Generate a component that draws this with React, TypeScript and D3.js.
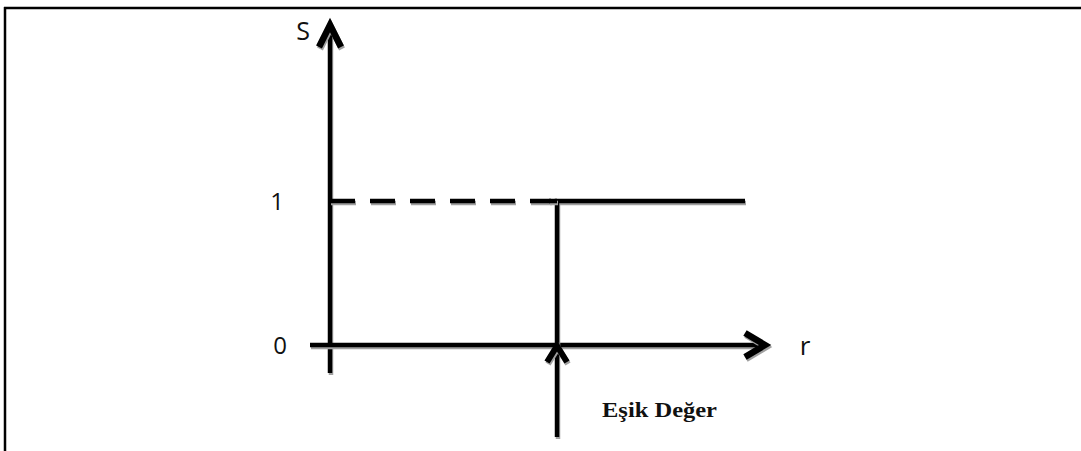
import React from "react";
import * as d3 from "d3";

const W = 1081;
const H = 451;

// data
const sLevels = [0, 1];
const sTickLabels = ["0", "1"];
const rDomain = [0, 10];
const threshold = [5.47];
const axisLabels = ["S", "r"];
const annotation = ["Eşik Değer"];

export default function App() {
  const x = d3.scaleLinear().domain(rDomain).range([330, 745]);
  const y = d3.scaleLinear().domain([0, 1]).range([345, 201]);
  const tx = x(threshold[0]);
  const line = d3.line<[number, number]>().x((d) => d[0]).y((d) => d[1]);

  const stroke = "#000";
  const shadow = "#a0a0a0";

  const chevron = (tipX: number, tipY: number, dir: "up" | "right", len: number, half: number) => {
    if (dir === "up")
      return line([
        [tipX - half, tipY + len],
        [tipX, tipY],
        [tipX + half, tipY + len],
      ]);
    return line([
      [tipX - len, tipY - half],
      [tipX, tipY],
      [tipX - len, tipY + half],
    ]);
  };

  const yAxisBottom = 373;
  const yAxisTop = 25;
  const xAxisLeft = 310;
  const xAxisRight = 765;

  const shadowed = (d: string | null, sw: number, key: string, dash?: string) => (
    <g key={key}>
      <path d={d || ""} transform="translate(1,2)" fill="none" stroke={shadow} strokeWidth={sw} strokeDasharray={dash} strokeLinejoin="miter" />
      <path d={d || ""} fill="none" stroke={stroke} strokeWidth={sw} strokeDasharray={dash} strokeLinejoin="miter" />
    </g>
  );

  const labelFont = "'Open Sans', sans-serif";

  return (
    <svg width={W} height={H} style={{ position: "absolute", left: 0, top: 0, background: "#fff" }}>
      <rect x={0} y={0} width={W} height={H} fill="#fff" />
      {/* frame */}
      <line x1={4} y1={8} x2={W} y2={8} stroke="#000" strokeWidth={2.5} />
      <line x1={5} y1={7} x2={5} y2={H} stroke="#000" strokeWidth={2.5} />

      {/* y axis */}
      {shadowed(line([[x(0), yAxisBottom], [x(0), yAxisTop + 3]]), 4.5, "ya")}
      {shadowed(chevron(x(0), yAxisTop, "up", 22, 11), 6.5, "yah")}
      {/* x axis */}
      {shadowed(line([[xAxisLeft, y(0)], [xAxisRight - 3, y(0)]]), 4.5, "xa")}
      {shadowed(chevron(xAxisRight, y(0), "right", 20, 12), 6.5, "xah")}

      {/* dashed level 1 before threshold */}
      {shadowed(line([[x(0), y(1)], [tx - 6, y(1)]]), 4.5, "dash", "25 15")}
      {/* step */}
      {shadowed(line([[tx, y(0)], [tx, y(1)], [x(rDomain[1]), y(1)]]), 4.5, "step")}
      {shadowed(line([[tx - 8, y(1)], [tx, y(1)]]), 4.5, "stepl")}

      {/* threshold arrow */}
      {shadowed(line([[tx, 437], [tx, y(0) + 3]]), 4.5, "ta")}
      {shadowed(chevron(tx, y(0) + 1, "up", 16, 10), 6, "tah")}

      {/* labels */}
      {sLevels.map((s, i) => (
        <text key={i} x={i === 0 ? 280 : 277} y={y(s)} dy="0.36em" textAnchor="middle" fontFamily={labelFont} fontSize={24} fill="#111">
          {sTickLabels[i]}
        </text>
      ))}
      <text x={303} y={40} textAnchor="middle" fontFamily={labelFont} fontSize={25} fill="#111">
        {axisLabels[0]}
      </text>
      <text x={805} y={355} textAnchor="middle" fontFamily={labelFont} fontSize={26} fill="#111">
        {axisLabels[1]}
      </text>
      <text x={602} y={417} fontFamily="'Liberation Serif', 'Times New Roman', serif" fontWeight="bold" fontSize={22} textLength={115} lengthAdjust="spacingAndGlyphs" fill="#111">
        {annotation[0]}
      </text>
    </svg>
  );
}
